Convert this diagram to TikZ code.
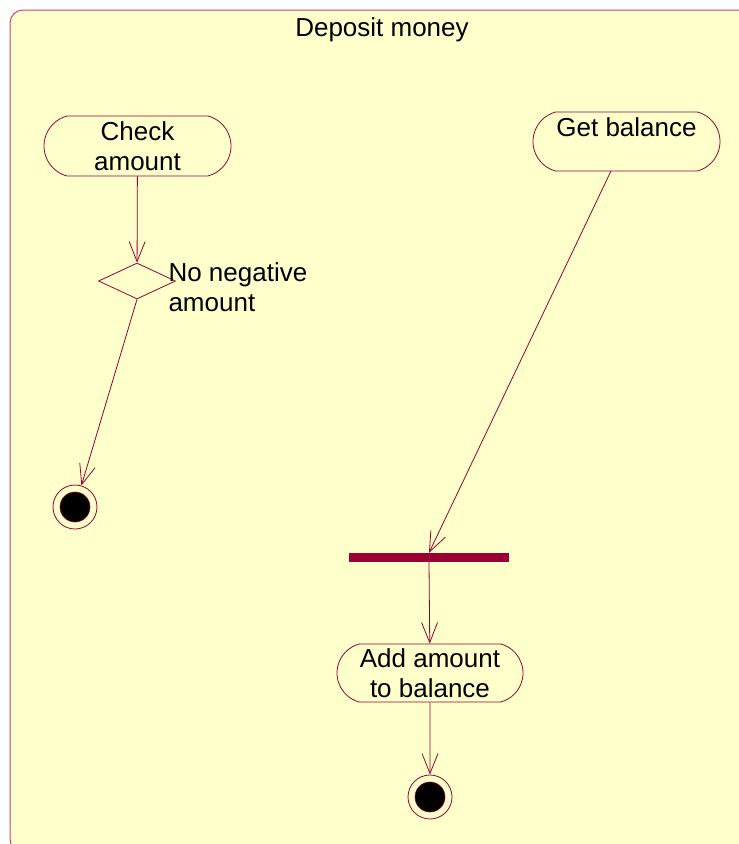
\documentclass[tikz,border=0pt]{standalone}
\usepackage{fontspec}
\setmainfont{Liberation Sans}
\usetikzlibrary{arrows.meta,shapes.misc,shapes.geometric}
\definecolor{bgyellow}{HTML}{FFFFCC}
\definecolor{framecol}{HTML}{C8486E}
\definecolor{umlline}{HTML}{990033}
\tikzset{
  txt/.style={font=\fontsize{26}{29.5}\selectfont, text=black},
  activity/.style={rounded rectangle, rounded rectangle arc length=150, draw=umlline, line width=0.8pt,
     minimum height=60pt, inner sep=0pt, align=center, txt},
  decision/.style={diamond, draw=umlline, line width=0.8pt, minimum width=77pt, minimum height=36pt, inner sep=0pt, aspect=2.14},
  syncbar/.style={rectangle, fill=umlline, minimum width=160pt, minimum height=9pt, inner sep=0pt},
  finalstate/.style={circle, draw=umlline, line width=0.8pt, minimum size=44pt, inner sep=0pt,
     path picture={\fill[black, draw=umlline, line width=0.6pt] (path picture bounding box.center) circle (15pt);}},
  flow/.style={draw=umlline, line width=0.8pt, -{Straight Barb[length=20pt,width=16pt,line width=0.8pt]}},
}
\begin{document}
\begin{tikzpicture}[x=1pt,y=-1pt]
\useasboundingbox (0,0) rectangle (739,844);
\fill[white] (0,0) rectangle (739,844);
\draw[framecol, line width=1pt, fill=bgyellow, rounded corners=13pt] (10,10) rectangle (780,852);
\node[txt] (title) at (382,30) {Deposit money};
\node[activity, minimum width=187pt] (check) at (137.5,146) {Check\\amount};
\node[decision] (dec) at (137,281) {};
\node[txt, anchor=west, align=left] (declabel) at (165,287) {No negative\\amount};
\node[finalstate] (end1) at (75,507) {};
\node[activity, minimum width=187pt, minimum height=59pt] (getbal) at (626.5,141.5) {Get balance\\\phantom{X}};
\node[syncbar] (bar) at (429,557.5) {};
\node[activity, minimum width=186pt, minimum height=58pt] (add) at (430,673) {Add amount\\to balance};
\node[finalstate] (end2) at (430,797) {};
\coordinate (gbout) at (611,171);
\draw[flow] (check) -- (dec);
\draw[flow] (dec.south) -- (end1);
\draw[flow] (gbout) -- (bar.north);
\draw[flow] (bar.south) -- (add);
\draw[flow] (add) -- (end2);
\end{tikzpicture}
\end{document}
